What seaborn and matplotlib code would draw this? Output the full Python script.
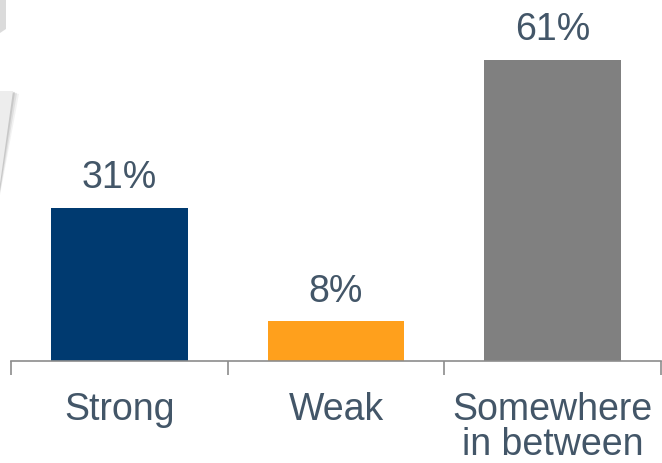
import matplotlib
matplotlib.use("Agg")
import pandas as pd
import seaborn as sns
import matplotlib.pyplot as plt
from matplotlib.patches import Polygon

categories = ["Strong", "Weak", "Somewhere\nin between"]
shares = [31, 8, 61]
colors = ["#003A70", "#FFA01C", "#808080"]

df = pd.DataFrame({"cat": categories, "share": shares})

sns.set_style("white")
plt.rcParams["font.family"] = ["Liberation Sans", "DejaVu Sans"]

TEXT = "#435668"

fig = plt.figure(figsize=(6.62, 4.64), dpi=100)
ax = fig.add_axes([11 / 662, 1 - 362 / 464, 650 / 662, 362 / 464])

sns.barplot(data=df, x="cat", y="share", hue="cat", palette=colors,
            width=0.63, saturation=1, legend=False, linewidth=0, ax=ax)

ax.set_xlim(-0.5, 2.5)
ax.set_ylim(0, 73.3)
ax.set_xlabel("")
ax.set_ylabel("")
ax.set_yticks([])

for side in ["top", "right", "left"]:
    ax.spines[side].set_visible(False)
ax.spines["bottom"].set_color("#8c8c8c")
ax.spines["bottom"].set_linewidth(1.2)

# category boundary ticks below the axis
ax.set_xticks([-0.5, 0.5, 1.5, 2.5])
ax.set_xticklabels([])
ax.tick_params(axis="x", bottom=True, direction="out", length=10,
               width=1.2, color="#8c8c8c")

for i, (lab, v) in enumerate(zip(categories, shares)):
    ax.annotate(f"{v}%", xy=(i, v), xytext=(0, 9), textcoords="offset points",
                ha="center", va="bottom", fontsize=27, color=TEXT)
    ax.annotate(lab, xy=(i, 0), xytext=(0, -21.5), textcoords="offset points",
                ha="center", va="top", fontsize=27, color=TEXT,
                linespacing=0.97, annotation_clip=False)

# decorative fragments of the slide graphic at the top left
def px(x, y):
    return (x / 662, 1 - y / 464)

for dx, alpha in [(6, 0.08), (4, 0.12), (2, 0.18)]:
    fig.patches.append(Polygon([px(0, 92), px(13 + dx, 92 + dx / 2), px(0, 190 + dx)],
                               closed=True, transform=fig.transFigure,
                               facecolor="#606060", alpha=alpha, edgecolor="none"))
fig.patches.append(Polygon([px(0, 92), px(13, 92), px(0, 185)], closed=True,
                           transform=fig.transFigure, facecolor="#ededed",
                           edgecolor="none"))
fig.patches.append(Polygon([px(0, 0), px(6, 0), px(6, 30), px(0, 34)], closed=True,
                           transform=fig.transFigure, facecolor="#9a9a9a",
                           alpha=0.35, edgecolor="none"))

fig.savefig("out.png", dpi=100)
